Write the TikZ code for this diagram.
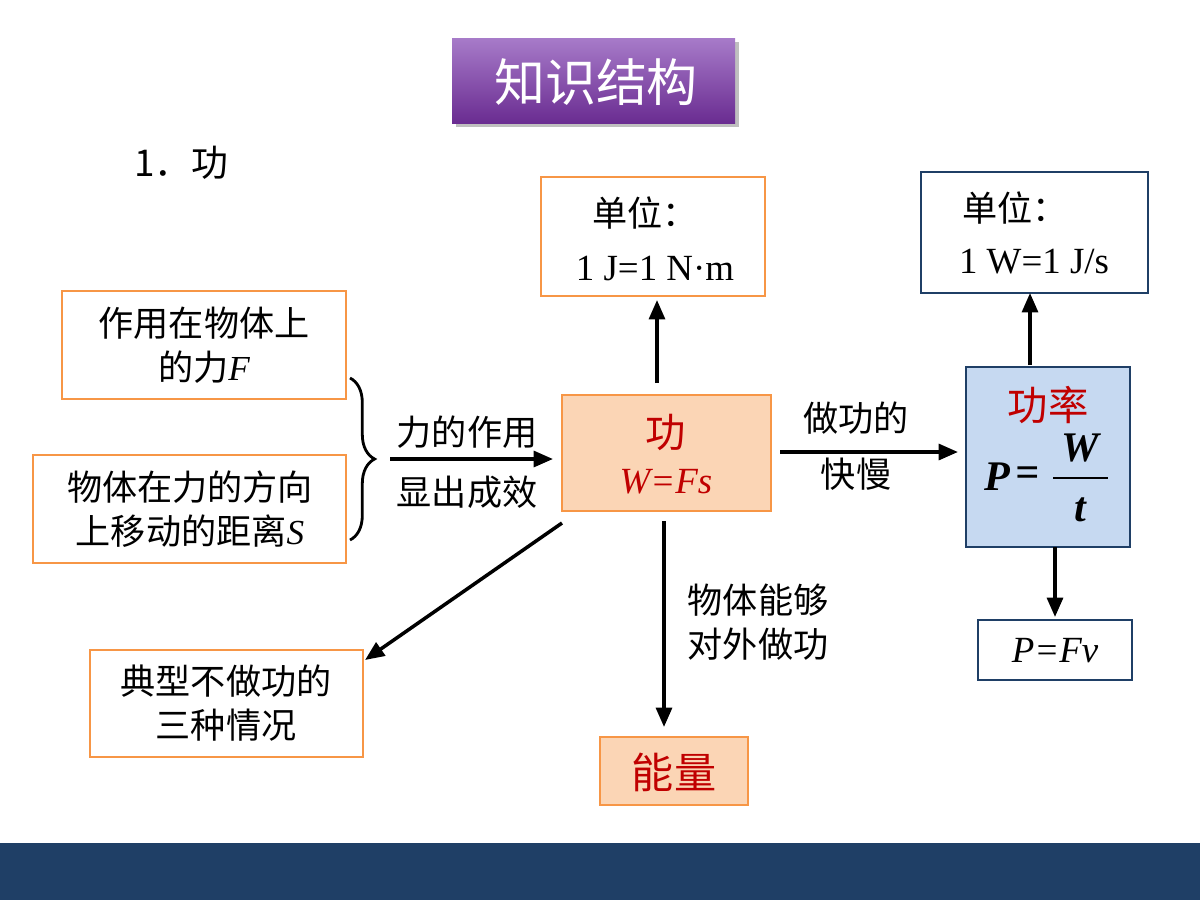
\documentclass[tikz,border=0pt]{standalone}
\usepackage{fontspec}
\setmainfont{Liberation Serif}
\newfontfamily\cjk{Noto Sans CJK SC}
\usetikzlibrary{arrows.meta,decorations.pathreplacing,shadows}
\definecolor{org}{HTML}{F79646}
\definecolor{dblue}{HTML}{1F3F66}
\definecolor{lorg}{HTML}{FBD5B5}
\definecolor{lblue}{HTML}{C6D9F1}
\definecolor{dred}{HTML}{C00000}
\definecolor{ptop}{HTML}{A77BC9}
\definecolor{pbot}{HTML}{6A2C91}
\begin{document}
\begin{tikzpicture}[x=0.02cm,y=-0.02cm,
  obox/.style={draw=org,line width=1.6pt,fill=white},
  bbox/.style={draw=dblue,line width=1.6pt,fill=white},
  txt/.style={font=\cjk\fontsize{20}{25}\selectfont,align=center},
  bi/.style={font=\fontsize{24}{26}\selectfont\bfseries\itshape},
  arr/.style={-{Triangle[length=11pt,width=9pt]},line width=2pt}]
\useasboundingbox (0,0) rectangle (1200,900);
\fill[dblue] (0,843) rectangle (1200,900);
% title
\shade[top color=ptop,bottom color=pbot,drop shadow] (452,38) rectangle (735,123);
\node[text=white,font=\cjk\fontsize{29}{32}\selectfont] (title) at (596,82) {知识结构};
\node[font=\cjk\fontsize{21}{24}\selectfont,anchor=west] (h1) at (128,163) {1．功};
% unit box 1
\draw[obox] (541,177) rectangle (765,296);
\node[txt] (u1a) at (645,213) {单位：};
\node[font=\fontsize{21}{24}\selectfont] (u1b) at (655,268) {1 J=1 N·m};
\coordinate (u1) at (657,300);
% unit box 2
\draw[bbox] (921,172) rectangle (1148,293);
\node[txt] (u2a) at (1015,208) {单位：};
\node[font=\fontsize{21}{24}\selectfont] (u2b) at (1034,262) {1 W=1 J/s};
\coordinate (u2) at (1030,293);
% left boxes
\draw[obox] (62,291) rectangle (346,399);
\node[txt] (l1t) at (204,345) {作用在物体上\\的力{\rmfamily\itshape F}};
\draw[obox] (33,455) rectangle (346,563);
\node[txt] (l2t) at (190,509) {物体在力的方向\\上移动的距离{\rmfamily\itshape S}};
\draw[line width=1.6pt,decorate,decoration={brace,amplitude=14pt}] (350,378) -- (350,540);
\coordinate (bs) at (390,459);
\coordinate (be) at (553,459);
\draw[arr] (bs) -- (be);
\node[txt] (f1) at (467,432) {力的作用};
\node[txt] (f2) at (467,492) {显出成效};
% center
\draw[draw=org,line width=1.6pt,fill=lorg] (562,395) rectangle (771,511);
\node[font=\cjk\fontsize{23}{26}\selectfont,text=dred] (gong) at (666,432) {功};
\node[font=\fontsize{21}{24}\selectfont\itshape,text=dred] (wfs) at (666,482) {W=Fs};
\coordinate (cu) at (657,383);
\draw[arr] (cu) -- (u1);
\coordinate (cr) at (780,452);
\coordinate (pl) at (958,452);
\draw[arr] (cr) -- (pl);
\node[txt] (k1) at (856,418) {做功的};
\node[txt] (k2) at (856,474) {快慢};
% power
\draw[draw=dblue,line width=1.6pt,fill=lblue] (966,367) rectangle (1130,547);
\node[font=\cjk\fontsize{23}{26}\selectfont,text=dred] (gl) at (1048,405) {功率};
\node[bi] (pp) at (997,477) {P};
\node[bi] (peq) at (1028,477) {=};
\node[bi] (pw) at (1080,448) {W};
\node[bi] (pt) at (1080,510) {t};
\draw[line width=1pt] (1053,478) -- (1108,478);
\coordinate (pu) at (1030,365);
\draw[arr] (pu) -- (u2);
\coordinate (pd) at (1055,547);
\coordinate (fv) at (1055,617);
\draw[arr] (pd) -- (fv);
\draw[bbox] (978,620) rectangle (1132,680);
\node[font=\fontsize{21}{24}\selectfont\itshape] (pfv) at (1055,651) {P=Fv};
% energy
\coordinate (cd) at (664,521);
\coordinate (en) at (664,727);
\draw[arr] (cd) -- (en);
\node[txt,align=left] (e1) at (758,622) {物体能够\\对外做功};
\draw[draw=org,line width=1.6pt,fill=lorg] (600,737) rectangle (748,805);
\node[font=\cjk\fontsize{24}{28}\selectfont,text=dred] (nl) at (674,772) {能量};
% no-work
\coordinate (cdl) at (562,523);
\coordinate (nw) at (365,660);
\draw[arr] (cdl) -- (nw);
\draw[obox] (90,650) rectangle (363,757);
\node[txt] (nwt) at (226,703) {典型不做功的\\三种情况};
\end{tikzpicture}
\end{document}
